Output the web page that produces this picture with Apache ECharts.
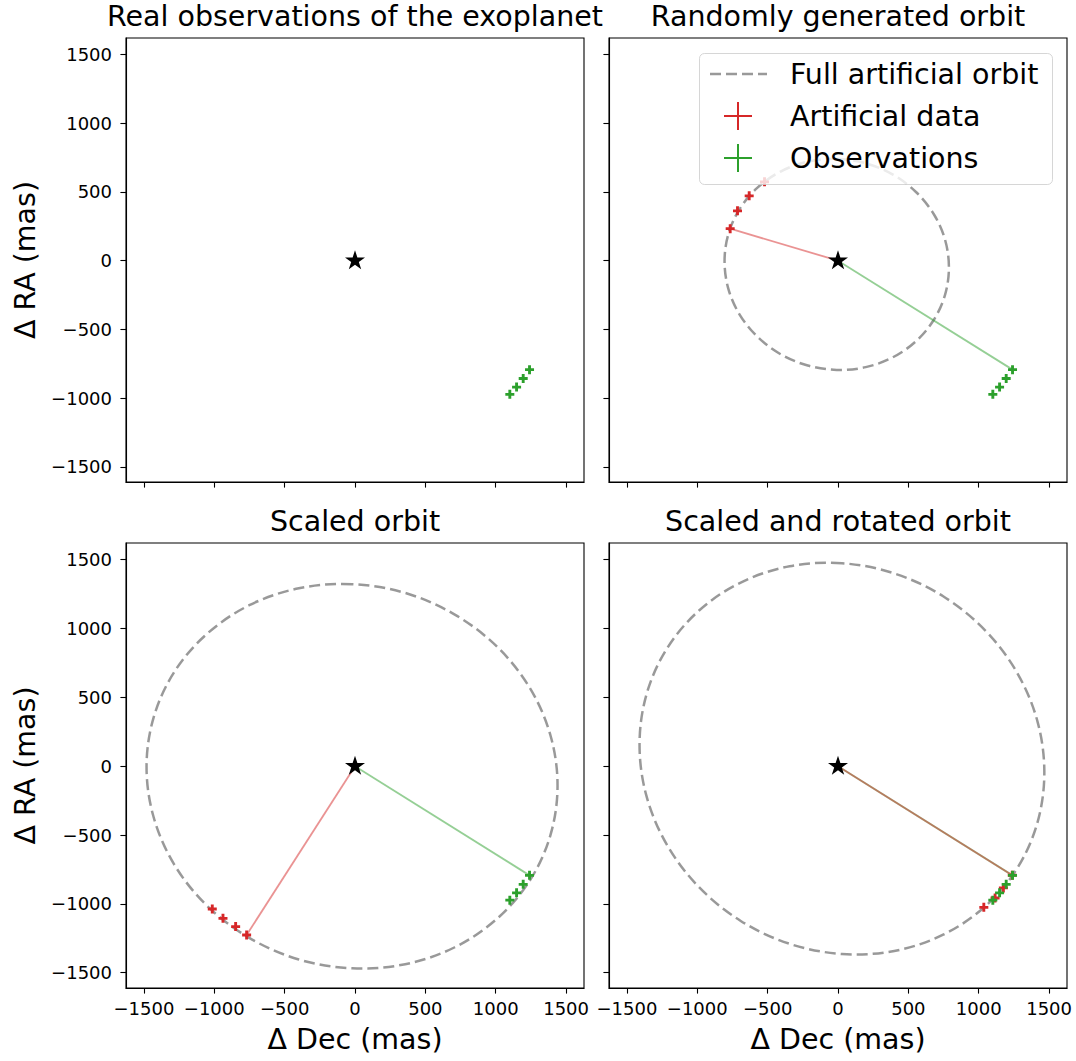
<!DOCTYPE html>
<html>
<head>
<meta charset="utf-8">
<script src="https://cdn.jsdelivr.net/npm/echarts@6.0.0/dist/echarts.min.js"></script>
<style>
  html, body { margin: 0; padding: 0; background: #ffffff; }
  #chart { width: 1076px; height: 1061px; }
</style>
</head>
<body>
<div id="chart"></div>
<script>
// Host star at the origin (mas offsets)
const star = [0, 0];

// Measured positions of the companion (ΔDec, ΔRA), mas
const observations = [[1240, -793], [1195, -858], [1148, -920], [1100, -973]];

// Artificial epochs on the randomly generated orbit
const randomArtificial = [[-766, 233], [-714, 363], [-631, 472], [-522, 574]];
// Artificial epochs after scaling
const scaledArtificial = [[-770, -1226], [-848, -1165], [-938, -1105], [-1014, -1037]];
// Artificial epochs after scaling and rotation
const rotatedArtificial = [[1238, -792], [1175, -884], [1116, -957], [1036, -1025]];

// Full orbit tracks (closed loops, drawn as smooth closed curves)
const randomOrbit = [
  [-9, 741], [-215, 721], [-408, 649], [-572, 532], [-699, 376], [-779, 193],
  [-806, -5], [-779, -205], [-699, -392], [-572, -554], [-408, -681], [-215, -763],
  [-9, -795], [197, -775], [390, -703], [554, -586], [681, -430], [761, -247],
  [788, -49], [761, 151], [681, 338], [554, 500], [390, 627], [197, 709]
];
const scaledOrbit = [
  [-21, 1322], [-399, 1292], [-751, 1169], [-1053, 960], [-1285, 683], [-1431, 353],
  [-1481, -6], [-1431, -369], [-1285, -713], [-1053, -1012], [-751, -1247], [-399, -1404],
  [-21, -1468], [357, -1438], [709, -1315], [1011, -1106], [1243, -829], [1389, -499],
  [1439, -140], [1389, 223], [1243, 567], [1011, 866], [709, 1101], [357, 1258]
];
const rotatedOrbit = [
  [28, 1474], [-344, 1452], [-691, 1334], [-989, 1129], [-1217, 852], [-1361, 520],
  [-1410, 155], [-1361, -216], [-1217, -568], [-989, -877], [-691, -1124], [-344, -1290],
  [28, -1364], [400, -1342], [747, -1224], [1045, -1019], [1273, -742], [1417, -410],
  [1466, -45], [1417, 326], [1273, 678], [1045, 987], [747, 1234], [400, 1400]
];

// Shared axis limits and tick positions
const xLimits = [-1627, 1627];
const yLimits = [-1611, 1621];
const tickValues = [-1500, -1000, -500, 0, 500, 1000, 1500];

const titles = [
  'Real observations of the exoplanet',
  'Randomly generated orbit',
  'Scaled orbit',
  'Scaled and rotated orbit'
];
const xName = '\u0394 Dec (mas)';
const yName = '\u0394 RA (mas)';

const FONT = 'DejaVu Sans';
const BIG = 28.5;
const RED = '#d62728';
const GREEN = '#2ca02c';
const ORBIT = 'rgba(128,128,128,0.8)';

const STAR_PATH = 'path://M0,-10 L2.245,-3.09 L9.511,-3.09 L3.633,1.18 L5.878,8.09 L0,3.82 L-5.878,8.09 L-3.633,1.18 L-9.511,-3.09 L-2.245,-3.09 Z';
const PLUS_PATH = 'path://M-1.6,-5 L1.6,-5 L1.6,-1.6 L5,-1.6 L5,1.6 L1.6,1.6 L1.6,5 L-1.6,5 L-1.6,1.6 L-5,1.6 L-5,-1.6 L-1.6,-1.6 Z';

const grids = [
  { left: 126, top: 38, width: 458, height: 444 },
  { left: 609, top: 38, width: 458, height: 444 },
  { left: 126, top: 543, width: 458, height: 445 },
  { left: 609, top: 543, width: 458, height: 445 }
].map(g => Object.assign(g, {
  show: true, borderColor: '#000', borderWidth: 1.1, backgroundColor: 'transparent',
  containLabel: false, outerBoundsMode: 'none'
}));

const fmt = v => (v < 0 ? '\u2212' + Math.abs(v) : String(v));

function makeAxis(kind, gi, showLabels, showName) {
  const isX = kind === 'x';
  return {
    type: 'value',
    gridIndex: gi,
    min: isX ? xLimits[0] : yLimits[0],
    max: isX ? xLimits[1] : yLimits[1],
    splitLine: { show: false },
    axisLine: { show: true, onZero: false, lineStyle: { color: '#000', width: 1.1 } },
    axisTick: {
      show: true, inside: false, length: 5.6, customValues: tickValues,
      lineStyle: { color: '#000', width: 1.1 }
    },
    axisLabel: {
      show: showLabels, customValues: tickValues, formatter: fmt,
      fontFamily: FONT, fontSize: 18, color: '#000',
      margin: isX ? 11 : 14, showMinLabel: true, showMaxLabel: true
    },
    name: showName ? (isX ? xName : yName) : '',
    nameLocation: 'middle',
    nameGap: isX ? 37 : 86,
    nameTextStyle: { fontFamily: FONT, fontSize: BIG, color: '#000' }
  };
}

const xAxes = [
  makeAxis('x', 0, false, false),
  makeAxis('x', 1, false, false),
  makeAxis('x', 2, true, true),
  makeAxis('x', 3, true, true)
];
const yAxes = [
  makeAxis('y', 0, true, true),
  makeAxis('y', 1, false, false),
  makeAxis('y', 2, true, true),
  makeAxis('y', 3, false, false)
];

// Closed dashed orbit: one smooth polygon through all track points
function orbitSeries(gi, pts) {
  return {
    type: 'custom', xAxisIndex: gi, yAxisIndex: gi, data: pts, silent: true, z: 2,
    encode: { x: 0, y: 1 },
    renderItem: (params, api) => {
      if (params.dataIndex !== 0) return null;
      const points = pts.map(p => api.coord(p));
      return {
        type: 'polygon',
        shape: { points: points, smooth: 0.34 },
        style: { fill: 'none', stroke: ORBIT, lineWidth: 2.5, lineDash: [11, 5] }
      };
    }
  };
}
function spokeSeries(gi, target, color, z) {
  return {
    type: 'line', xAxisIndex: gi, yAxisIndex: gi, data: [star, target],
    showSymbol: false, silent: true, z: z,
    lineStyle: { color: color, width: 1.8, opacity: 0.5 }
  };
}
function markerSeries(gi, pts, color, z) {
  return {
    type: 'scatter', xAxisIndex: gi, yAxisIndex: gi, data: pts,
    symbol: PLUS_PATH, symbolSize: 9, silent: true, z: z,
    itemStyle: { color: color, opacity: 1 }
  };
}
function starSeries(gi) {
  return {
    type: 'scatter', xAxisIndex: gi, yAxisIndex: gi, data: [star],
    symbol: STAR_PATH, symbolSize: 20, symbolKeepAspect: true, symbolOffset: [0, -1],
    silent: true, z: 10, itemStyle: { color: '#000', opacity: 1 }
  };
}

const series = [];
// Panel 1: observations only
series.push(markerSeries(0, observations, GREEN, 5), starSeries(0));
// Panels 2-4: orbit, spokes to the first epoch, artificial and observed positions
[[1, randomOrbit, randomArtificial], [2, scaledOrbit, scaledArtificial], [3, rotatedOrbit, rotatedArtificial]]
  .forEach(([gi, orbit, art]) => {
    series.push(
      orbitSeries(gi, orbit),
      spokeSeries(gi, observations[0], GREEN, 3),
      spokeSeries(gi, art[0], RED, 3.5),
      markerSeries(gi, art, RED, 4),
      markerSeries(gi, observations, GREEN, 5),
      starSeries(gi)
    );
  });

const titleCenters = [[355, 16], [838, 16], [355, 521], [838, 521]];
const title = titles.map((t, i) => ({
  text: t, left: titleCenters[i][0], top: titleCenters[i][1],
  textAlign: 'center', textVerticalAlign: 'middle', padding: 0,
  textStyle: { fontFamily: FONT, fontSize: BIG, fontWeight: 'normal', color: '#000' }
}));

// Legend box inside the second panel
const legendText = (txt, y) => ({
  type: 'text', x: 790, y: y, z: 101,
  style: { text: txt, fontFamily: FONT, fontSize: BIG, fill: '#000', verticalAlign: 'middle', align: 'left' }
});
const legendPlus = (cx, cy, color) => ([
  { type: 'line', z: 101, shape: { x1: cx - 14, y1: cy, x2: cx + 14, y2: cy }, style: { stroke: color, lineWidth: 2 } },
  { type: 'line', z: 101, shape: { x1: cx, y1: cy - 14, x2: cx, y2: cy + 14 }, style: { stroke: color, lineWidth: 2 } }
]);
const graphic = [
  { type: 'rect', z: 100, shape: { x: 699.5, y: 53.5, width: 353, height: 131, r: 5 },
    style: { fill: 'rgba(255,255,255,0.8)', stroke: 'rgba(204,204,204,0.8)', lineWidth: 1 } },
  { type: 'line', z: 101, shape: { x1: 710, y1: 74, x2: 767, y2: 74 },
    style: { stroke: ORBIT, lineWidth: 2.5, lineDash: [11, 5] } },
  legendText('Full artificial orbit', 74),
  ...legendPlus(738, 116, RED),
  legendText('Artificial data', 116),
  ...legendPlus(738, 158, GREEN),
  legendText('Observations', 158)
];

const chart = echarts.init(document.getElementById('chart'), null, { renderer: 'svg', width: 1076, height: 1061 });
chart.setOption({
  animation: false,
  backgroundColor: '#ffffff',
  title: title,
  grid: grids,
  xAxis: xAxes,
  yAxis: yAxes,
  series: series,
  graphic: graphic
});
</script>
</body>
</html>
